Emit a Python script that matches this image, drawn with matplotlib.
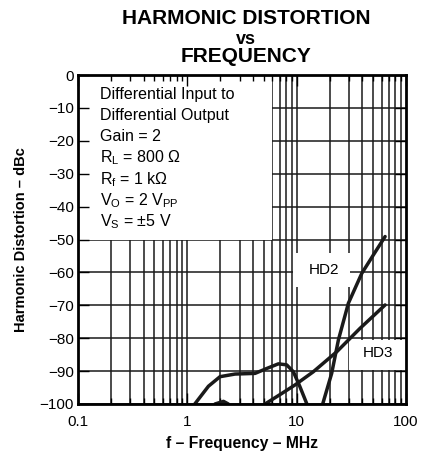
import numpy as np
import matplotlib
matplotlib.use('Agg')
import matplotlib.pyplot as plt
from matplotlib.patches import Rectangle

plt.rcParams['font.family'] = ['Liberation Sans', 'DejaVu Sans']
plt.rcParams['mathtext.default'] = 'regular'

# HD2: 低域のこぶ + 高域で急上昇 (MHz, dBc)
hd2_lo_f = [1.17, 1.56, 1.99, 2.73, 4.16, 5.33, 6.8, 8.1, 9.33, 10.7, 12.4]
hd2_lo_db = [-100, -94.6, -91.7, -90.9, -90.7, -89.2, -87.8, -88.1, -90.2, -94.7, -100]
hd2_hi_f = [17.3, 20.9, 24.1, 29.7, 39.4, 50.3, 64.4]
hd2_hi_db = [-100, -90.7, -80.5, -69.4, -60.3, -54.7, -49.1]
# HD3
hd3_bump_f = [1.79, 2.14, 2.37]
hd3_bump_db = [-100, -99.2, -100]
hd3_f = [5.14, 7.31, 9.67, 14.2, 23.3, 38.0, 64.4]
hd3_db = [-100, -96.8, -94.2, -90.2, -84.1, -77.0, -69.9]

notes = ["Differential Input to", "Differential Output", "Gain = 2",
         "R$_L$ = 800 Ω", "R$_f$ = 1 kΩ", "V$_O$ = 2 V$_{PP}$", "V$_S$ = ±5 V"]
xticks = [0.1, 1, 10, 100]
xticklabels = ["0.1", "1", "10", "100"]
yticks = list(range(-100, 1, 10))

fig = plt.figure(figsize=(4.27, 4.53), dpi=100)
ax = fig.add_axes([0.1827, 0.1082, 0.7681, 0.7262])
ax.set_xscale('log')
ax.set_xlim(0.1, 100)
ax.set_ylim(-100, 0)

# grid drawn by hand so white boxes can cover it but not the ticks
vgrid = [m * 10.0 ** e for e in (-1, 0, 1) for m in range(1, 10)][1:]
ax.vlines(vgrid, -100, 0, color='#1a1a1a', lw=1.1, zorder=1)
ax.hlines(yticks, 0.1, 100, color='#1a1a1a', lw=1.1, zorder=1)

# white masks
for (x0, x1, y0, y1) in [(0.1, 5.96, -50, 0), (9.2, 31, -64.5, -54),
                         (30, 100, -89.6, -80.4)]:
    ax.add_patch(Rectangle((x0, y0), x1 - x0, y1 - y0, facecolor='white',
                           edgecolor='none', zorder=2))

for f, d in [(hd2_lo_f, hd2_lo_db), (hd2_hi_f, hd2_hi_db),
             (hd3_bump_f, hd3_bump_db), (hd3_f, hd3_db)]:
    ax.plot(f, d, color='#1a1a1a', lw=2.5, solid_capstyle='round', zorder=4)

ax.text(17.8, -59.3, "HD2", ha='center', va='center', fontsize=11, zorder=5)
ax.text(55.6, -84.6, "HD3", ha='center', va='center', fontsize=11, zorder=5)

for i, s in enumerate(notes):
    ax.text(0.067, 0.942 - i * 0.0647, s, transform=ax.transAxes, fontsize=11.5,
            ha='left', va='center', zorder=5)

ax.set_xticks(xticks)
ax.set_xticklabels(xticklabels)
ax.set_yticks(yticks)
ax.set_yticklabels([str(v).replace('-', '\u2212') for v in yticks])
ax.tick_params(axis='both', which='major', direction='in', length=8, width=1,
               labelsize=11, top=True, right=True)
ax.tick_params(axis='x', which='major', pad=8)
ax.tick_params(axis='y', which='major', pad=3)
ax.tick_params(axis='x', which='minor', direction='in', length=4, width=1,
               top=True)
ax.set_axisbelow(False)
for sp in ax.spines.values():
    sp.set_linewidth(2)
    sp.set_zorder(6)

ax.set_xlabel("f \u2013 Frequency \u2013 MHz", fontsize=11.3, fontweight='bold', labelpad=5)
ax.set_ylabel("Harmonic Distortion \u2013 dBc", fontsize=10.5, fontweight='bold', labelpad=8)

fig.text(0.577, 0.960, "HARMONIC DISTORTION", ha='center', va='center',
         fontsize=15, fontweight='bold')
fig.text(0.577, 0.913, "vs", ha='center', va='center', fontsize=13, fontweight='bold')
fig.text(0.577, 0.876, "FREQUENCY", ha='center', va='center',
         fontsize=15, fontweight='bold')

fig.savefig("out.png", dpi=100)
